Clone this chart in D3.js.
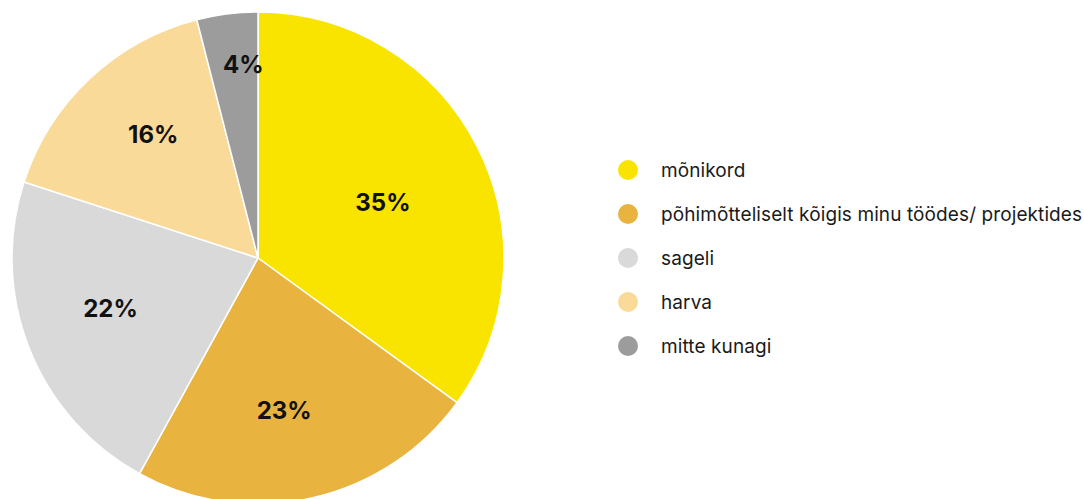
<!DOCTYPE html>
<html><head><meta charset="utf-8">
<script src="https://cdn.jsdelivr.net/npm/d3@7"></script>
<style>body{margin:0;background:#fff;}svg{display:block;}</style>
</head><body>
<svg id="c" width="1084" height="499"></svg>
<script>
const categories = ["mõnikord", "põhimõtteliselt kõigis minu töödes/ projektides", "sageli", "harva", "mitte kunagi"];
const values = [35, 23, 22, 16, 4];
const colors = ["#F9E400", "#E8B33E", "#D9D9D9", "#FADA98", "#9C9C9C"];

const svg = d3.select("#c");
const cx = 258, cy = 258, R = 246;
const data = categories.map((c, i) => ({cat: c, value: values[i], color: colors[i]}));
const pie = d3.pie().value(d => d.value).sort(null);
const arcs = pie(data);
const arc = d3.arc().innerRadius(0).outerRadius(R);
const g = svg.append("g").attr("transform", `translate(${cx},${cy})`);
g.selectAll("path").data(arcs).join("path")
  .attr("d", arc).attr("fill", d => d.data.color)
  .attr("stroke", "#fff").attr("stroke-width", 1.5).attr("stroke-linejoin", "round");

function labelPos(d) {
  const half = (d.endAngle - d.startAngle) / 2;
  const centroidR = (2 / 3) * R * Math.sin(half) / half;
  let r = centroidR * 1.03;
  if (2 * r * Math.sin(half) < 60) r = R * 0.79;
  const a = (d.startAngle + d.endAngle) / 2 + 0.05;
  return [r * Math.sin(a), -r * Math.cos(a)];
}

g.selectAll("text").data(arcs).join("text")
  .attr("transform", d => `translate(${labelPos(d)})`)
  .attr("text-anchor", "middle").attr("dy", "0.36em")
  .attr("font-family", "Inter, 'Noto Sans', sans-serif").attr("font-weight", 700)
  .attr("font-size", 24).attr("fill", "#111")
  .text(d => d.data.value + "%");

const lg = svg.append("g");
const items = lg.selectAll("g").data(data).join("g")
  .attr("transform", (d, i) => `translate(628,${170 + i * 44})`);
items.append("circle").attr("r", 10).attr("fill", d => d.color);
items.append("text").attr("x", 33).attr("dy", "0.35em")
  .attr("font-family", "Inter, 'Noto Sans', sans-serif").attr("font-size", 19)
  .attr("letter-spacing", 0.1)
  .attr("fill", "#1a1a1a").text(d => d.cat);
</script>
</body></html>
